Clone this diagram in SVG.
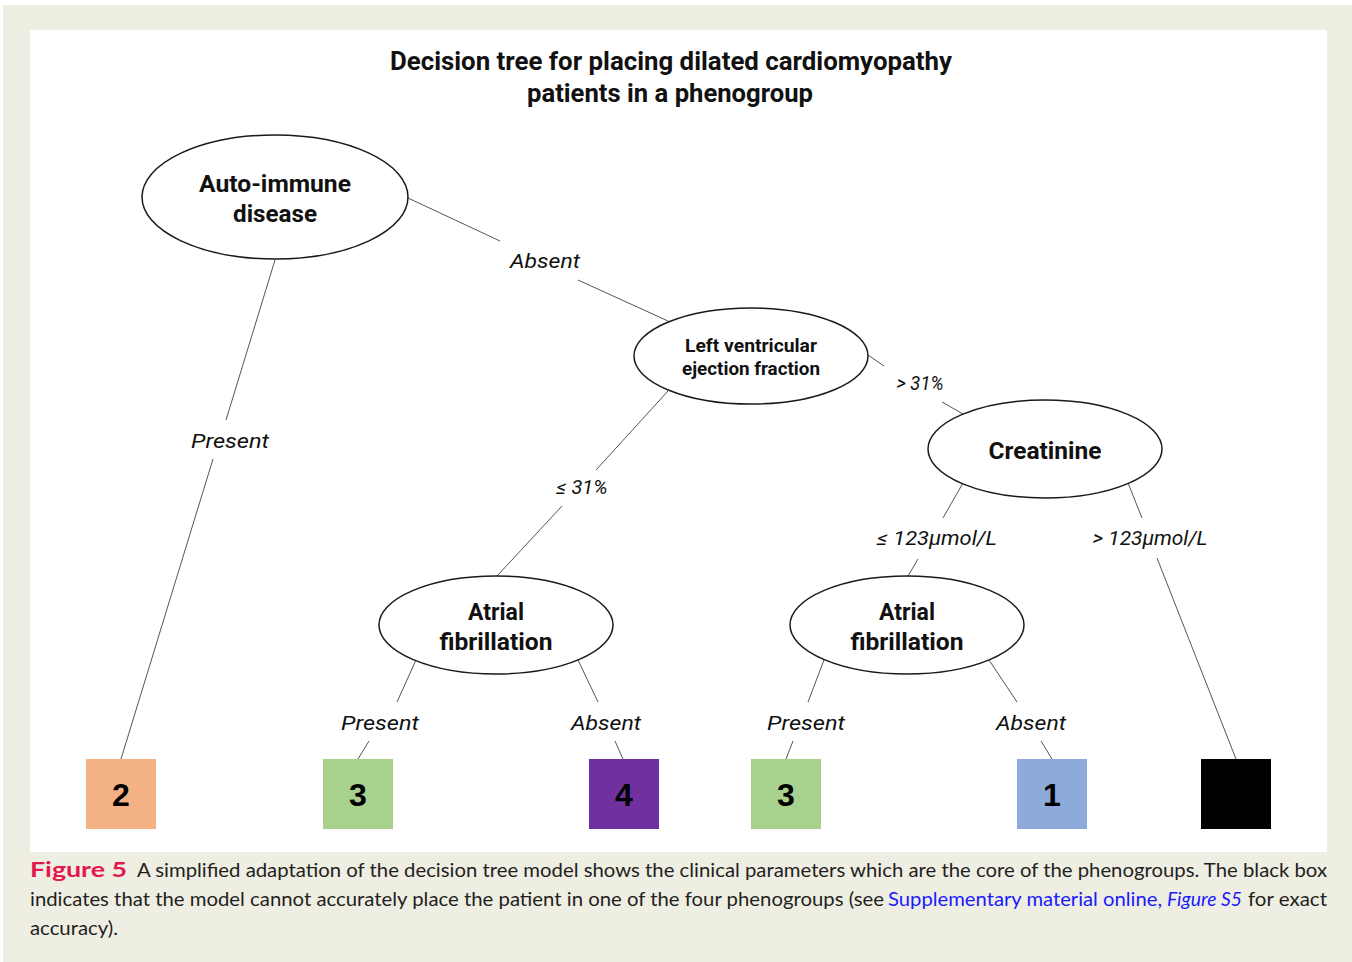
<svg xmlns="http://www.w3.org/2000/svg" width="1352" height="962" viewBox="0 0 1352 962">
<style>
.bg{fill:#efeee3}
.node ellipse{fill:#fff;stroke:#1a1a1a;stroke-width:1.5}
.nt{font-family:Roboto,"DejaVu Sans",sans-serif;font-weight:bold;fill:#111;text-anchor:middle}
.lbl{font-family:Roboto,"DejaVu Sans",sans-serif;font-style:italic;font-size:20px;fill:#111;text-anchor:middle}
.conn line{stroke:#555;stroke-width:1}
.box text{font-family:"Liberation Sans",Arial,sans-serif;font-weight:bold;font-size:32px;fill:#000;text-anchor:middle}
.cap{font-family:Lato,"Open Sans",sans-serif;font-size:20px}
.cap-k{fill:#231f20}
.cap-r{fill:#e2174c;font-weight:bold}
.cap-b{fill:#1a1aff}
</style>
<rect x="0" y="0" width="1352" height="962" fill="#fff"/>
<rect class="bg" x="3" y="5" width="1349" height="957"/>
<rect x="30" y="30" width="1297" height="822" fill="#fff"/>

<g id="title">
<text class="nt" x="671" y="70" font-size="25" textLength="562" lengthAdjust="spacingAndGlyphs">Decision tree for placing dilated cardiomyopathy</text>
<text class="nt" x="670" y="102" font-size="25" textLength="286" lengthAdjust="spacingAndGlyphs">patients in a phenogroup</text>
</g>

<g id="connectors" class="conn">
<line x1="408" y1="198" x2="500" y2="241"/>
<line x1="578" y1="280" x2="668" y2="321"/>
<line x1="275" y1="260" x2="226" y2="420"/>
<line x1="213" y1="459" x2="121" y2="759"/>
<line x1="868" y1="355" x2="884" y2="366"/>
<line x1="942" y1="402" x2="963" y2="414"/>
<line x1="668" y1="391" x2="596" y2="470"/>
<line x1="562" y1="506" x2="497" y2="576"/>
<line x1="963" y1="483" x2="943" y2="518"/>
<line x1="918" y1="559" x2="908" y2="576"/>
<line x1="1128" y1="483" x2="1142" y2="518"/>
<line x1="1157" y1="558" x2="1236" y2="759"/>
<line x1="416" y1="660" x2="397" y2="702"/>
<line x1="369" y1="741" x2="358" y2="759"/>
<line x1="578" y1="660" x2="598" y2="702"/>
<line x1="615" y1="741" x2="623" y2="759"/>
<line x1="824" y1="660" x2="808" y2="702"/>
<line x1="793" y1="741" x2="786" y2="759"/>
<line x1="989" y1="660" x2="1017" y2="702"/>
<line x1="1041" y1="741" x2="1052" y2="759"/>
</g>

<g id="edge-labels">
<text class="lbl" x="545" y="268" textLength="70" lengthAdjust="spacingAndGlyphs">Absent</text>
<text class="lbl" x="230" y="448" textLength="78" lengthAdjust="spacingAndGlyphs">Present</text>
<text class="lbl" x="920" y="390" textLength="47" lengthAdjust="spacingAndGlyphs">&gt; 31%</text>
<text class="lbl" x="582" y="494" textLength="51" lengthAdjust="spacingAndGlyphs">≤ 31%</text>
<text class="lbl" x="937" y="545" textLength="120" lengthAdjust="spacingAndGlyphs">≤ 123µmol/L</text>
<text class="lbl" x="1150" y="545" textLength="115" lengthAdjust="spacingAndGlyphs">&gt; 123µmol/L</text>
<text class="lbl" x="380" y="730" textLength="78" lengthAdjust="spacingAndGlyphs">Present</text>
<text class="lbl" x="606" y="730" textLength="70" lengthAdjust="spacingAndGlyphs">Absent</text>
<text class="lbl" x="806" y="730" textLength="78" lengthAdjust="spacingAndGlyphs">Present</text>
<text class="lbl" x="1031" y="730" textLength="70" lengthAdjust="spacingAndGlyphs">Absent</text>
</g>

<g id="n-autoimmune" class="node">
<ellipse cx="275" cy="197" rx="133" ry="62"/>
<text class="nt" x="275" y="192" font-size="23" textLength="152" lengthAdjust="spacingAndGlyphs">Auto-immune</text>
<text class="nt" x="275" y="222" font-size="23" textLength="84" lengthAdjust="spacingAndGlyphs">disease</text>
</g>
<g id="n-lvef" class="node">
<ellipse cx="751" cy="356" rx="117" ry="48"/>
<text class="nt" x="751" y="352" font-size="18" textLength="132" lengthAdjust="spacingAndGlyphs">Left ventricular</text>
<text class="nt" x="751" y="375" font-size="18" textLength="138" lengthAdjust="spacingAndGlyphs">ejection fraction</text>
</g>
<g id="n-creatinine" class="node">
<ellipse cx="1045" cy="449" rx="117" ry="49"/>
<text class="nt" x="1045" y="459" font-size="23" textLength="113" lengthAdjust="spacingAndGlyphs">Creatinine</text>
</g>
<g id="n-af-left" class="node">
<ellipse cx="496" cy="625" rx="117" ry="49"/>
<text class="nt" x="496" y="620" font-size="23">Atrial</text>
<text class="nt" x="496" y="650" font-size="23" textLength="113" lengthAdjust="spacingAndGlyphs">fibrillation</text>
</g>
<g id="n-af-right" class="node">
<ellipse cx="907" cy="625" rx="117" ry="49"/>
<text class="nt" x="907" y="620" font-size="23">Atrial</text>
<text class="nt" x="907" y="650" font-size="23" textLength="113" lengthAdjust="spacingAndGlyphs">fibrillation</text>
</g>

<g id="box-2" class="box"><rect x="86" y="759" width="70" height="70" fill="#f4b183"/><text x="121" y="806">2</text></g>
<g id="box-3a" class="box"><rect x="323" y="759" width="70" height="70" fill="#a9d18e"/><text x="358" y="806">3</text></g>
<g id="box-4" class="box"><rect x="589" y="759" width="70" height="70" fill="#7030a0"/><text x="624" y="806">4</text></g>
<g id="box-3b" class="box"><rect x="751" y="759" width="70" height="70" fill="#a9d18e"/><text x="786" y="806">3</text></g>
<g id="box-1" class="box"><rect x="1017" y="759" width="70" height="70" fill="#8eaadb"/><text x="1052" y="806">1</text></g>
<g id="box-black" class="box"><rect x="1201" y="759" width="70" height="70" fill="#000"/></g>

<g id="caption">
<text class="cap cap-r" x="30" y="877" font-size="23" textLength="97" lengthAdjust="spacingAndGlyphs">Figure 5</text>
<text class="cap cap-k" x="137" y="877" textLength="1190" lengthAdjust="spacingAndGlyphs">A simplified adaptation of the decision tree model shows the clinical parameters which are the core of the phenogroups. The black box</text>
<text class="cap cap-k" x="30" y="906" textLength="854" lengthAdjust="spacingAndGlyphs">indicates that the model cannot accurately place the patient in one of the four phenogroups (see</text>
<text class="cap cap-b" x="888" y="906" textLength="274" lengthAdjust="spacingAndGlyphs">Supplementary material online,</text>
<text class="cap cap-b" x="1167" y="906" font-style="italic" textLength="75" lengthAdjust="spacingAndGlyphs">Figure S5</text>
<text class="cap cap-k" x="1248" y="906" textLength="79" lengthAdjust="spacingAndGlyphs">for exact</text>
<text class="cap cap-k" x="30" y="935" textLength="88" lengthAdjust="spacingAndGlyphs">accuracy).</text>
</g>
</svg>
